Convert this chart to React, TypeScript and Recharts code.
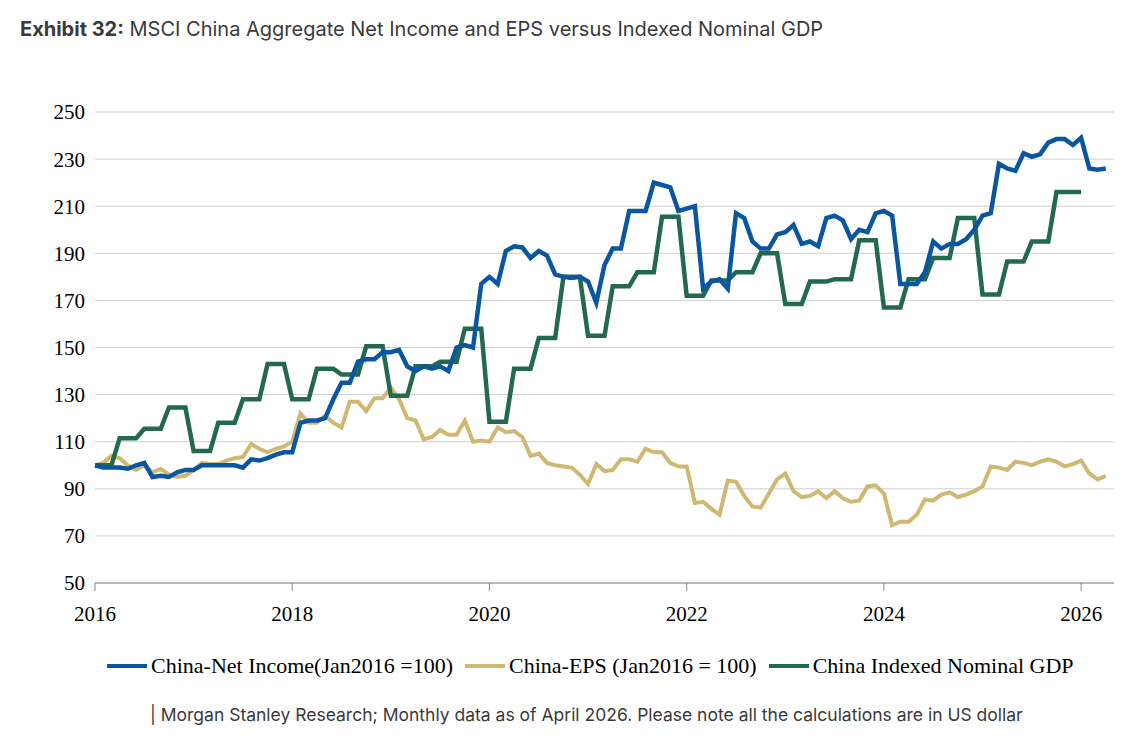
import React from "react";
import { CartesianGrid, Line, LineChart, XAxis, YAxis } from "recharts";

const netIncome = [
  100, 99, 99, 99, 98.5, 100, 101, 95, 95.5, 95, 97, 98,
  98, 100, 100, 100, 100, 100, 99, 102.5, 102, 103, 104.5, 105.5,
  105.5, 118, 119, 119, 120, 128, 135, 135, 144, 145, 145, 148,
  148, 149, 142, 140, 142, 141, 142, 140, 150, 151, 150, 177,
  180, 177, 191, 193, 192.5, 188, 191, 189, 181, 180, 179.5, 180,
  178, 169, 185, 192, 192, 208, 208, 208, 220, 219, 218, 208,
  209, 210, 175, 178, 179, 175, 207, 205, 195, 192, 192, 198,
  199, 202, 194, 195, 193, 205, 206, 204, 196, 200, 199, 207,
  208, 206, 177, 177, 177, 182, 195, 192, 194, 194, 196, 200,
  206, 207, 228, 226, 225, 232.5, 231, 232, 237, 238.5, 238.5, 236,
  239, 226, 225.5, 226,
];

const eps = [
  100, 101, 104, 103, 100, 98, 100, 97, 98.5, 96, 95, 95.5,
  98, 101, 100.5, 100.5, 102, 103, 103.5, 109, 107, 105.5, 107, 108,
  110, 122, 118, 118, 121, 118, 116, 127, 127, 123, 128.5, 128.5,
  133, 128, 120, 119, 111, 112, 115, 113, 113, 119, 110, 110.5,
  110, 116, 114, 114.5, 112, 104, 105, 101, 100, 99.5, 99, 96,
  92, 100.5, 97.5, 98, 102.5, 102.5, 101.5, 107, 105.5, 105.5, 101, 99.5,
  99.5, 84, 84.5, 81.5, 79, 93.5, 93, 87, 82.5, 82, 88, 94,
  96.5, 89, 86.5, 87, 89, 86, 89, 86, 84.5, 85, 91, 91.5,
  88, 74.5, 76, 76, 79, 85.5, 85, 87.5, 88.5, 86.5, 87.5, 89,
  91, 99.5, 99, 98, 101.5, 101, 100, 101.5, 102.5, 101.5, 99.5, 100.5,
  102, 96.5, 94, 95.5,
];

// quarterly values, each held for three months
const gdpQuarters = [
  100, 111.5, 115.5, 124.5,
  106, 118, 128, 143,
  128, 141, 138.5, 150.5,
  129.5, 142, 144, 158,
  118.5, 141, 154, 180,
  155, 176, 182, 205.5,
  172, 178.5, 182, 190,
  168.5, 178, 179, 195.5,
  167, 179, 188, 205,
  172.5, 186.5, 195, 216,
];

const yearTicks = [0, 24, 48, 72, 96, 120];
const yearLabels = ["2016", "2018", "2020", "2022", "2024", "2026"];
const yTicks = [50, 70, 90, 110, 130, 150, 170, 190, 210, 230, 250];

const data = netIncome.map((v, i) => {
  const q = Math.floor(i / 3);
  let gdp: number | null = q < gdpQuarters.length ? gdpQuarters[q] : null;
  if (i === 120) gdp = gdpQuarters[gdpQuarters.length - 1];
  return { m: i, ni: v, eps: eps[i], gdp };
});

const serif = "'Liberation Serif', 'Times New Roman', serif";
const sans = "Inter, 'Noto Sans', sans-serif";

const legendItems = [
  { label: "China-Net Income(Jan2016 =100)", color: "#0a56a0" },
  { label: "China-EPS (Jan2016 = 100)", color: "#d1b872" },
  { label: "China Indexed Nominal GDP", color: "#22694f" },
];

export default function App() {
  return (
    <div style={{ position: "absolute", left: 0, top: 0, width: 1143, height: 739, background: "#fff" }}>
      <div style={{ position: "absolute", left: 20, top: 17, fontFamily: sans, fontSize: 20, color: "#3a3a3a" }}>
        <b>Exhibit 32:</b> MSCI China Aggregate Net Income and EPS versus Indexed Nominal GDP
      </div>
      <LineChart width={1143} height={739} data={data} margin={{ top: 112, right: 29, left: 35, bottom: 126 }}>
        <CartesianGrid vertical={false} stroke="#d0d0d0" />
        <XAxis
          dataKey="m"
          type="number"
          domain={[0, 124]}
          ticks={yearTicks}
          tickFormatter={(v: number) => yearLabels[yearTicks.indexOf(v)]}
          height={30}
          stroke="#888"
          tickSize={8}
          tick={{ fill: "#000", fontFamily: serif, fontSize: 21, dy: 13 }}
        />
        <YAxis
          domain={[50, 250]}
          ticks={yTicks}
          width={60}
          axisLine={false}
          tickLine={false}
          tick={{ fill: "#000", fontFamily: serif, fontSize: 21, dx: -2 }}
        />
        <Line dataKey="eps" stroke="#d1b872" strokeWidth={4} dot={false} isAnimationActive={false} />
        <Line dataKey="gdp" stroke="#22694f" strokeWidth={4.5} dot={false} isAnimationActive={false} />
        <Line dataKey="ni" stroke="#0a56a0" strokeWidth={4.5} dot={false} isAnimationActive={false} />
      </LineChart>
      <div style={{ position: "absolute", left: 107, top: 653, display: "flex", gap: 12, fontFamily: serif, fontSize: 22, color: "#000" }}>
        {legendItems.map((it) => (
          <div key={it.label} style={{ display: "flex", alignItems: "center" }}>
            <span style={{ display: "inline-block", width: 40, height: 4, background: it.color, marginRight: 4 }} />
            {it.label}
          </div>
        ))}
      </div>
      <div style={{ position: "absolute", left: 150, top: 704, fontFamily: sans, fontSize: 17.5, color: "#3a3a3a" }}>
        | Morgan Stanley Research; Monthly data as of April 2026. Please note all the calculations are in US dollar
      </div>
    </div>
  );
}
